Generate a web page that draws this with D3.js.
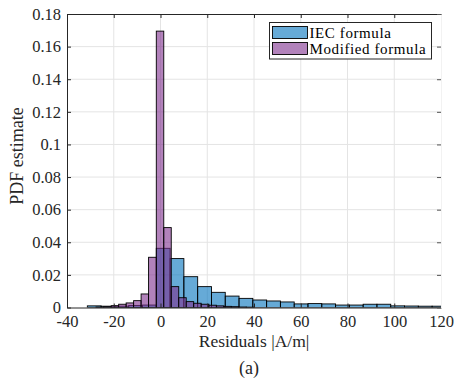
<!DOCTYPE html>
<html>
<head>
<meta charset="utf-8">
<script src="https://cdn.jsdelivr.net/npm/d3@7"></script>
<style>
  body { margin: 0; background: #fff; }
  svg text { font-family: "Liberation Serif", "Times New Roman", serif !important; fill: #262626; }
</style>
</head>
<body>
<div id="chart"></div>
<script>

// ------------------------------- DATA ------------------------------------
// IEC formula histogram: bin edges and PDF estimates
var iecEdges = [-31.3, -25.4, -19.5, -13.6, -7.7, -1.8, 4.1, 10.0, 15.9, 21.8, 27.7, 33.6, 39.5,
                45.4, 51.3, 57.2, 63.1, 69.0, 74.9, 80.8, 86.7, 92.6, 98.5, 104.4, 110.3, 116.2, 122.1];
var iecPdf = [0.0010, 0.0008, 0.0008, 0.0012, 0.0015, 0.0363, 0.0300, 0.0189, 0.0128, 0.0093, 0.0070,
              0.0056, 0.0046, 0.0040, 0.0034, 0.0022, 0.0024, 0.0022, 0.0015, 0.0015, 0.0020, 0.0020,
              0.0010, 0.0009, 0.0008, 0.0008];

// Modified formula histogram
var modEdges = [-27.6, -24.3, -21.1, -17.9, -14.7, -11.5, -8.3, -5.1, -1.8, 1.4, 4.6, 7.8, 11.0,
                14.2, 17.4, 20.7, 23.9, 27.1, 30.3, 33.5, 36.7, 40.0];
var modPdf = [0.0003, 0.0005, 0.0011, 0.0020, 0.0028, 0.0042, 0.0083, 0.0308, 0.1695, 0.0490, 0.0128,
              0.0060, 0.0036, 0.0026, 0.0020, 0.0014, 0.0010, 0.0007, 0.0005, 0.0003, 0.0002];

var xTicks = [-40, -20, 0, 20, 40, 60, 80, 100, 120];
var yTicks = [0, 0.02, 0.04, 0.06, 0.08, 0.1, 0.12, 0.14, 0.16, 0.18];
var seriesNames = ["IEC formula", "Modified formula"];
var seriesColors = ["#0072bd", "#7e2f8e"];

function toBins(edges, vals) {
    return vals.map(function(v, i) { return {x0: edges[i], x1: edges[i + 1], v: v}; });
}

// ------------------------------- SCALES ------------------------------------
var W = 455, H = 387;
var x = d3.scaleLinear().domain([-40, 120]).range([67, 441]);
var y = d3.scaleLinear().domain([0, 0.18]).range([307.5, 14]);

var svg = d3.select("#chart").append("svg").attr("width", W).attr("height", H);

// clip to plot area
svg.append("clipPath").attr("id", "plot").append("rect")
    .attr("x", x(-40)).attr("y", y(0.18)).attr("width", x(120) - x(-40)).attr("height", y(0) - y(0.18));

// ------------------------------- GRID ------------------------------------
var grid = svg.append("g");
grid.selectAll("line.gx").data(xTicks.slice(1, -1)).enter().append("line")
    .attr("x1", d => x(d)).attr("x2", d => x(d))
    .attr("y1", y(0.18)).attr("y2", y(0))
    .attr("stroke", "#e4e4e4").attr("stroke-width", 1);
grid.selectAll("line.gy").data(yTicks.slice(1, -1)).enter().append("line")
    .attr("x1", x(-40)).attr("x2", x(120))
    .attr("y1", d => y(d)).attr("y2", d => y(d))
    .attr("stroke", "#e4e4e4").attr("stroke-width", 1);

// ------------------------------- BARS ------------------------------------
var bars = svg.append("g").attr("clip-path", "url(#plot)");
[toBins(iecEdges, iecPdf), toBins(modEdges, modPdf)].forEach(function(bins, k) {
    bars.append("g").selectAll("rect").data(bins).enter()
    .append("rect")
    .attr("x", d => x(d.x0))
    .attr("y", d => y(d.v))
    .attr("width", d => x(d.x1) - x(d.x0))
    .attr("height", d => y(0) - y(d.v))
    .attr("fill", seriesColors[k]).attr("fill-opacity", 0.6)
    .attr("stroke", "#000").attr("stroke-width", 0.9);
});

// ------------------------------- AXES ------------------------------------
var xAxis = d3.axisBottom(x).tickValues(xTicks).tickSizeInner(-4).tickSizeOuter(0).tickPadding(7.5)
    .tickFormat(d => String(d));
var yAxis = d3.axisLeft(y).tickValues(yTicks).tickSizeInner(-4).tickSizeOuter(0).tickPadding(6)
    .tickFormat(d => d === 0 ? "0" : String(+d.toFixed(2)));

var gx = svg.append("g").attr("transform", "translate(0," + y(0) + ")").call(xAxis);
var gy = svg.append("g").attr("transform", "translate(" + x(-40) + ",0)").call(yAxis);
[gx, gy].forEach(function(g) {
    g.attr("font-family", null).attr("font-size", null);
    g.select(".domain").attr("stroke", "#262626");
    g.selectAll(".tick line").attr("stroke", "#262626");
    g.selectAll(".tick text")
        .style("font-family", "'Liberation Serif', serif")
        .style("font-size", "16.5px").attr("fill", "#262626");
});
gx.selectAll(".tick text").attr("dy", "0.71em");

// top and right box edges with inward ticks
var gTop = svg.append("g").attr("transform", "translate(0," + y(0.18) + ")")
    .call(d3.axisTop(x).tickValues(xTicks).tickSizeInner(-4).tickSizeOuter(0).tickFormat(""));
gTop.select(".domain").attr("stroke", "#262626");
gTop.selectAll(".tick line").attr("stroke", "#262626");
var gRight = svg.append("g").attr("transform", "translate(" + x(120) + ",0)")
    .call(d3.axisRight(y).tickValues(yTicks).tickSizeInner(-4).tickSizeOuter(0).tickFormat(""));
gRight.select(".domain").attr("stroke", "#f2f2f2");
gRight.selectAll(".tick line").attr("stroke", "#555");

// ------------------------------- LABELS ------------------------------------
svg.append("text").attr("x", (x(-40) + x(120)) / 2).attr("y", 347)
    .attr("text-anchor", "middle").style("font-size", "17.5px").text("Residuals |A/m|");
svg.append("text").attr("transform", "translate(23," + 156 + ") rotate(-90)")
    .attr("text-anchor", "middle").style("font-size", "18px").text("PDF estimate");
svg.append("text").attr("x", 249).attr("y", 374)
    .attr("text-anchor", "middle").style("font-size", "18px").text("(a)");

// ------------------------------- LEGEND ------------------------------------
var legend = svg.append("g");
legend.append("rect").attr("x", 269.5).attr("y", 22.5).attr("width", 162).attr("height", 36.5)
    .attr("fill", "#fff").attr("stroke", "#262626").attr("stroke-width", 1);
var items = legend.selectAll("g.item").data(seriesNames).enter().append("g")
    .attr("transform", (d, i) => "translate(0," + (i * 16) + ")");
items.append("rect").attr("x", 272.5).attr("y", 26.5).attr("width", 35).attr("height", 12)
    .attr("fill", (d, i) => seriesColors[i]).attr("fill-opacity", 0.6)
    .attr("stroke", "#000").attr("stroke-width", 0.9);
items.append("text").attr("x", 309.5).attr("y", 37.5)
    .style("font-size", "15px").style("letter-spacing", "0.6px").style("fill", "#000")
    .text(d => d);

</script>
</body>
</html>
